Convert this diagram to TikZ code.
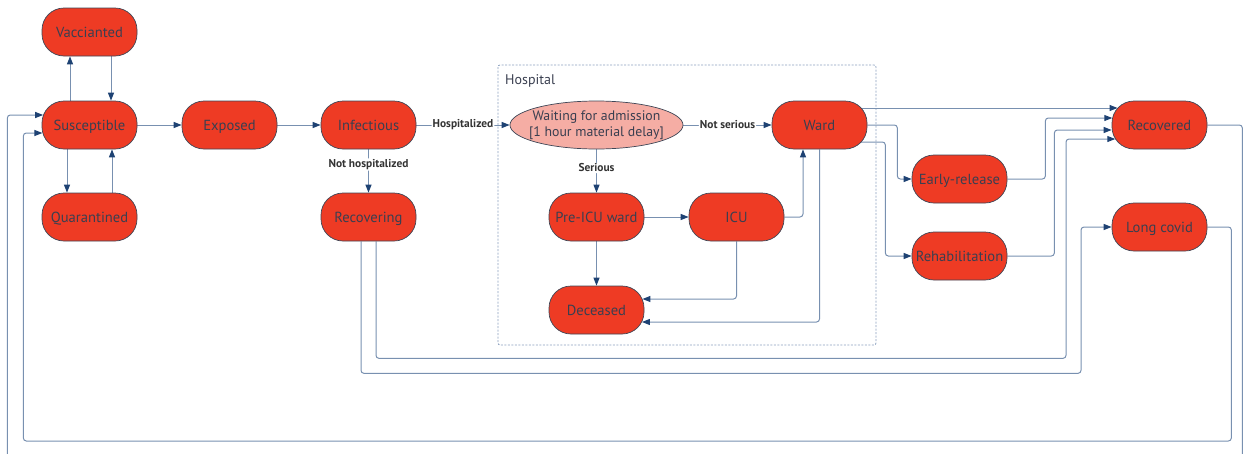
\documentclass[tikz,border=0pt]{standalone}
\usepackage{fontspec}
\setmainfont{PT Sans}
\usetikzlibrary{arrows.meta,shapes.geometric}
\definecolor{nodered}{HTML}{EE3B24}
\definecolor{waitpink}{HTML}{F5ADA4}
\definecolor{nodeedge}{HTML}{3E4656}
\definecolor{txt}{HTML}{3A3F50}
\definecolor{wire}{HTML}{7890B0}
\definecolor{tipblue}{HTML}{1E4273}
\definecolor{framecol}{HTML}{8A9FBE}
\pgfdeclarelayer{background}
\pgfsetlayers{background,main}

\begin{document}
\begin{tikzpicture}[x=1pt,y=-1pt,
  state/.style={draw=nodeedge, line width=0.7pt, fill=nodered, rounded corners=22pt,
    minimum width=95pt, minimum height=48pt, inner sep=0pt, text=txt,
    text height=10pt, text depth=0pt,
    font=\fontsize{14.6}{16}\selectfont},
  waiting/.style={ellipse, draw=nodeedge, line width=0.7pt, fill=waitpink,
    minimum width=173pt, minimum height=48pt, inner xsep=-30pt, inner ysep=-15pt,
    text=txt, align=center, font=\fontsize{13.8}{16}\selectfont},
  flow/.style={draw=wire, line width=1pt, rounded corners=3pt,
    -{Triangle[length=8pt,width=6pt,color=tipblue]}},
  tag/.style={fill=white, inner sep=1pt, text=black!80,
    font=\bfseries\fontsize{11.4}{13}\selectfont},
  hospframe/.style={draw=framecol, line width=0.8pt, dash pattern=on 2pt off 1.5pt, rounded corners=2pt}
]
\useasboundingbox (0,0) rectangle (1245,453);

% compartments
\node[state] (vac) at (89.5,32) {Vaccianted};
\node[state] (sus) at (89.5,125) {Susceptible};
\node[state] (qua) at (89.5,217) {Quarantined};
\node[state] (exp) at (229.5,125) {Exposed};
\node[state] (inf) at (368.5,125) {Infectious};
\node[state] (rcv) at (368.5,217) {Recovering};
\node[waiting] (wait) at (596.5,125) {Waiting for admission\\{[}1 hour material delay{]}};
\node[state] (ward) at (819.5,125) {Ward};
\node[state] (pre) at (596.5,217) {Pre-ICU ward};
\node[state] (icu) at (736.5,217) {ICU};
\node[state] (dec) at (596.5,310) {Deceased};
\node[state] (rec) at (1159.5,125) {Recovered};
\node[state] (early) at (959.5,179) {Early-release};
\node[state] (rehab) at (959.5,256) {Rehabilitation};
\node[state] (long) at (1159.5,227) {Long covid};
\node[anchor=west, text=txt, font=\fontsize{14}{16}\selectfont, inner sep=0pt] (hosplabel) at (505,81) {Hospital};

\begin{pgfonlayer}{background}
% hospital boundary
\draw[hospframe] (498,65) rectangle (876,345);

% susceptible loops
\draw[flow] ([xshift=-19.5pt]sus.north) -- ([xshift=-19.5pt]vac.south);
\draw[flow] ([xshift=21.5pt]vac.south) -- ([xshift=21.5pt]sus.north);
\draw[flow] ([xshift=-22.5pt]sus.south) -- ([xshift=-22.5pt]qua.north);
\draw[flow] ([xshift=22.5pt]qua.north) -- ([xshift=22.5pt]sus.south);

% main chain
\draw[flow] (sus) -- (exp);
\draw[flow] (exp) -- (inf);
\draw[flow] (inf) -- node[tag]{Hospitalized} (wait);
\draw[flow] (inf) -- node[tag,pos=0.35]{Not hospitalized} (rcv);

% hospital flows
\draw[flow] (wait) -- node[tag]{Not serious} (ward);
\draw[flow] (wait) -- node[tag,pos=0.43]{Serious} (pre);
\draw[flow] (pre) -- (icu);
\draw[flow] (pre) -- (dec);
\draw[flow] (icu.east) -| ([xshift=-16.5pt]ward.south);
\draw[flow] (icu.south) |- ([xshift=-1.9pt,yshift=11pt]dec.east);
\draw[flow] (ward.south) |- ([xshift=-2.4pt,yshift=-12pt]dec.east);

% discharge
\draw[flow] ([yshift=17pt]ward.center) -- ([xshift=5.9pt,yshift=17pt]rec.west);
\draw[flow] (ward.east) -- ++(30,0) |- (early.west);
\draw[flow] ([yshift=-17pt]ward.center) -- ([xshift=18pt,yshift=-17pt]ward.east) |- (rehab.west);
\draw[flow] (early.east) -- ++(38,0) |- ([xshift=0.6pt,yshift=7pt]rec.west);
\draw[flow] (rehab.east) -- ++(47,0) |- ([yshift=-5pt]rec.west);

% recovering outcomes
\draw[flow] ([xshift=7.5pt]rcv.south) -- ++(0,117) -- ++(690,0) |- ([xshift=3.6pt,yshift=-14pt]rec.west);
\draw[flow] ([xshift=-7.5pt]rcv.south) -- ++(0,132) -- ++(720,0) |- (long.west);

% return to susceptible
\draw[flow] (long.east) -- ++(24,0) -- ++(0,214) -- ++(-1208,0) |- ([xshift=0.8pt,yshift=-8pt]sus.west);
\draw[flow] (rec.east) -- ++(35,0) -- ++(0,340) -- ++(-1235,0) |- ([xshift=1.5pt,yshift=10pt]sus.west);
\end{pgfonlayer}
\end{tikzpicture}
\end{document}
